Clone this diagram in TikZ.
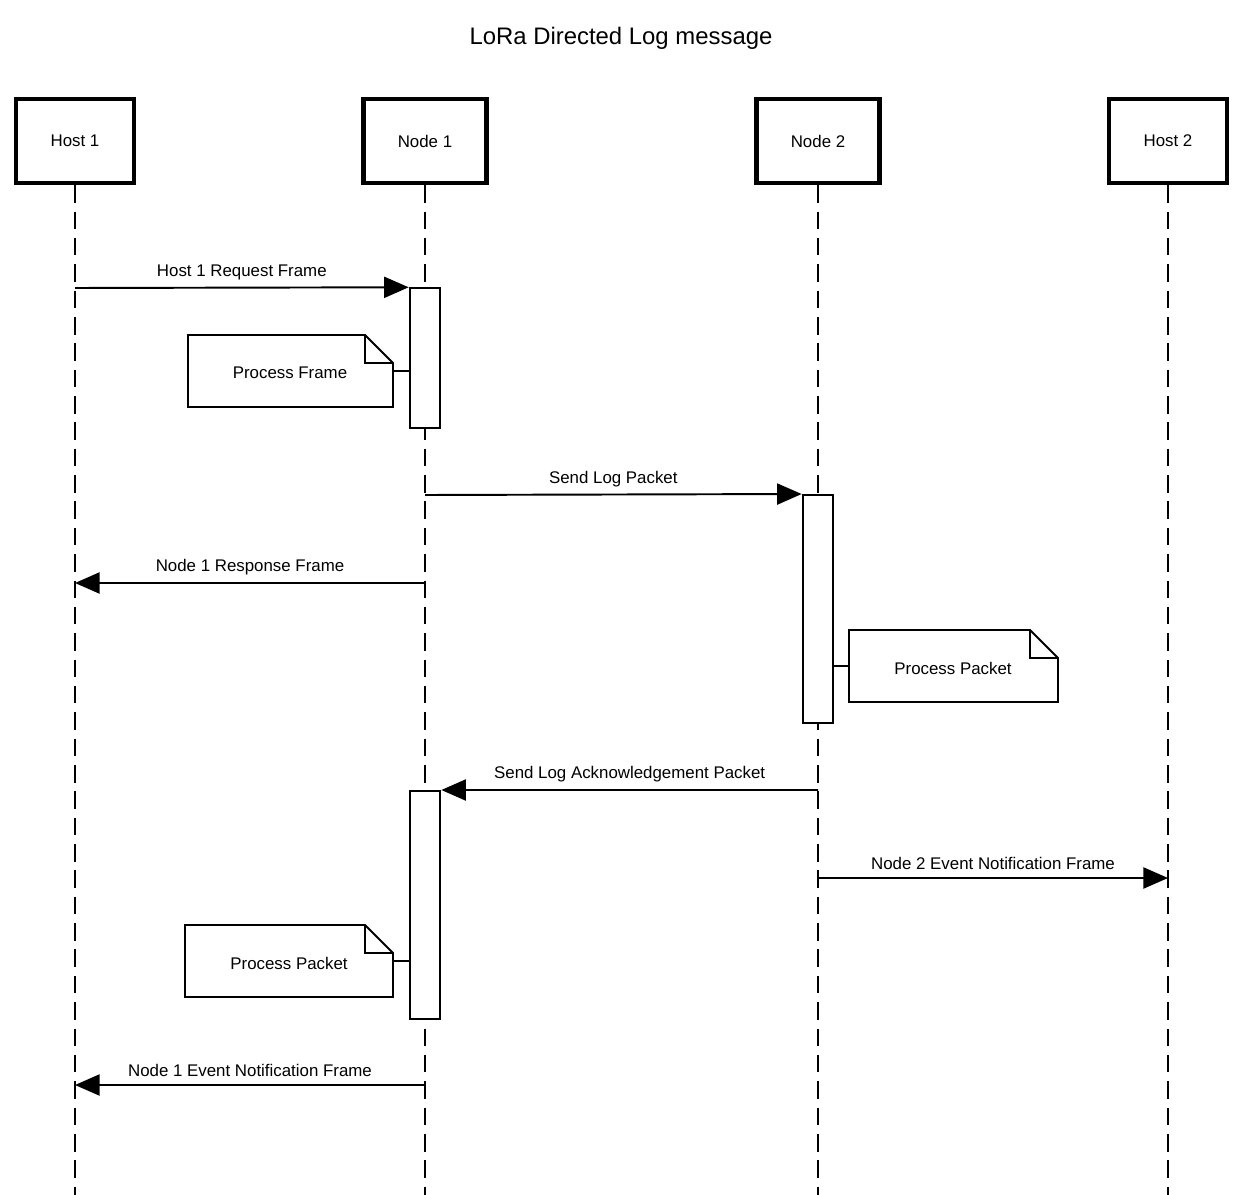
\documentclass[tikz,border=0pt]{standalone}
\usepackage{fontspec}
\setmainfont{Liberation Sans}
\usetikzlibrary{arrows.meta}
\begin{document}
\begin{tikzpicture}[x=0.02cm,y=-0.02cm,
	actor/.style={rectangle,draw,line width=2.3pt,minimum width=67pt,minimum height=48pt,inner sep=0pt,font=\fontsize{9.6}{11}\selectfont},
	life/.style={line width=1.1pt,dash pattern=on 10pt off 5pt},
	bar/.style={rectangle,draw,fill=white,line width=1.1pt,minimum width=17.5pt,inner sep=0pt},
	msg/.style={-{Triangle[length=14pt,width=12pt]},line width=1.1pt},
	lbl/.style={font=\fontsize{9.6}{11}\selectfont,anchor=south,inner sep=2pt},
	note/.style={line width=1.1pt,fill=white}]
 \useasboundingbox (0,0) rectangle (1243,1195);
 \node at (621,38) {\fontsize{13.6}{16}\selectfont LoRa Directed Log message};

 \node (H1) [actor] at (75,141) {Host 1};
 \node (N1) [actor,minimum width=70pt] at (425,141) {Node 1};
 \node (N2) [actor,minimum width=70pt] at (818,141) {Node 2};
 \node (H2) [actor] at (1168,141) {Host 2};
 \foreach \a/\x in {H1/75,N1/425,N2/818,H2/1168}
 	\draw [life] (\a.south) -- (\x,1195);

 % activations
 \node (B1) [bar,minimum height=79.4pt] at (425,358) {};
 \node (B2) [bar,minimum height=129.8pt] at (818,609) {};
 \node (B3) [bar,minimum height=129.8pt] at (425,905) {};

 % notes
 \draw [note] (188,335) -- (365,335) -- (393,363) -- (393,407) -- (188,407) -- cycle;
 \draw [line width=1.1pt] (365,335) -- (365,363) -- (393,363);
 \node (P1) [font=\fontsize{9.6}{11}\selectfont] at (290,373) {Process Frame};
 \draw [line width=1.1pt] (393,371) -- (B1.west |- 0,371);

 \draw [note] (849,630) -- (1030,630) -- (1058,658) -- (1058,702) -- (849,702) -- cycle;
 \draw [line width=1.1pt] (1030,630) -- (1030,658) -- (1058,658);
 \node (P2) [font=\fontsize{9.6}{11}\selectfont] at (953,668) {Process Packet};
 \draw [line width=1.1pt] (B2.east |- 0,666) -- (849,666);

 \draw [note] (185,925) -- (365,925) -- (393,953) -- (393,997) -- (185,997) -- cycle;
 \draw [line width=1.1pt] (365,925) -- (365,953) -- (393,953);
 \node (P3) [font=\fontsize{9.6}{11}\selectfont] at (289,963) {Process Packet};
 \draw [line width=1.1pt] (393,961) -- (B3.west |- 0,961);

 % messages
 \coordinate (m1) at (75,288);
 \draw [msg] (m1) -- (B1.north west) node [lbl,midway,yshift=2pt] {Host 1 Request Frame};
 \coordinate (m2) at (425,495);
 \draw [msg] (m2) -- (B2.north west) node [lbl,midway,yshift=2pt] {Send Log Packet};
 \coordinate (m3a) at (425,583);
 \coordinate (m3b) at (75,583);
 \draw [msg] (m3a) -- (m3b) node [lbl,midway,yshift=2pt] {Node 1 Response Frame};
 \coordinate (m4) at (818,790);
 \draw [msg] (m4) -- (B3.north east) node [lbl,midway,yshift=2pt] {Send Log Acknowledgement Packet};
 \coordinate (m5a) at (818,878);
 \coordinate (m5b) at (1168,878);
 \draw [msg] (m5a) -- (m5b) node [lbl,midway,yshift=2pt] {Node 2 Event Notification Frame};
 \coordinate (m6a) at (425,1085);
 \coordinate (m6b) at (75,1085);
 \draw [msg] (m6a) -- (m6b) node [lbl,midway,yshift=2pt] {Node 1 Event Notification Frame};
\end{tikzpicture}
\end{document}
